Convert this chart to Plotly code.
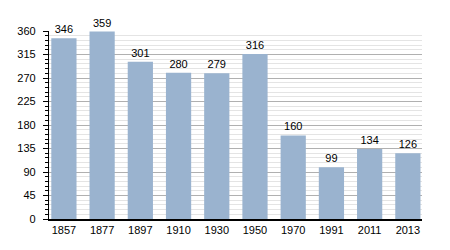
import plotly.graph_objects as go

years = ["1857", "1877", "1897", "1910", "1930", "1950", "1970", "1991", "2011", "2013"]
population = [346, 359, 301, 280, 279, 316, 160, 99, 134, 126]
y_ticks = [0, 45, 90, 135, 180, 225, 270, 315, 360]

fig = go.Figure(go.Bar(
    x=years, y=population,
    marker=dict(color="#9ab3cf", line=dict(width=0)),
    width=0.66,
    text=[str(v) for v in population],
    textposition="outside",
    textfont=dict(family="Liberation Sans, Arial, sans-serif", size=11, color="black"),
    cliponaxis=False,
))

fig.update_layout(
    width=450, height=250,
    margin=dict(l=49, r=28, t=31, b=31),
    paper_bgcolor="white", plot_bgcolor="white",
    font=dict(family="Liberation Sans, Arial, sans-serif", size=11, color="black"),
    showlegend=False,
    xaxis=dict(
        type="category",
        range=[-0.39, 9.37],
        showline=True, linecolor="black", linewidth=1.5,
        ticks="", showgrid=False,
        tickfont=dict(size=11),
    ),
    yaxis=dict(
        range=[0, 360],
        tickvals=y_ticks,
        showline=True, linecolor="black", linewidth=1.2,
        ticks="outside", ticklen=5, tickcolor="black", tickwidth=1,
        ticklabelstandoff=5,
        showgrid=True, gridcolor="#b0b0b0", gridwidth=1,
        zeroline=False,
        minor=dict(dtick=9, tick0=0, showgrid=True, gridcolor="#e4e4e4", gridwidth=1,
                   ticks="outside", ticklen=3, tickcolor="black"),
        tickfont=dict(size=11),
    ),
)

fig.write_html("out.html")
